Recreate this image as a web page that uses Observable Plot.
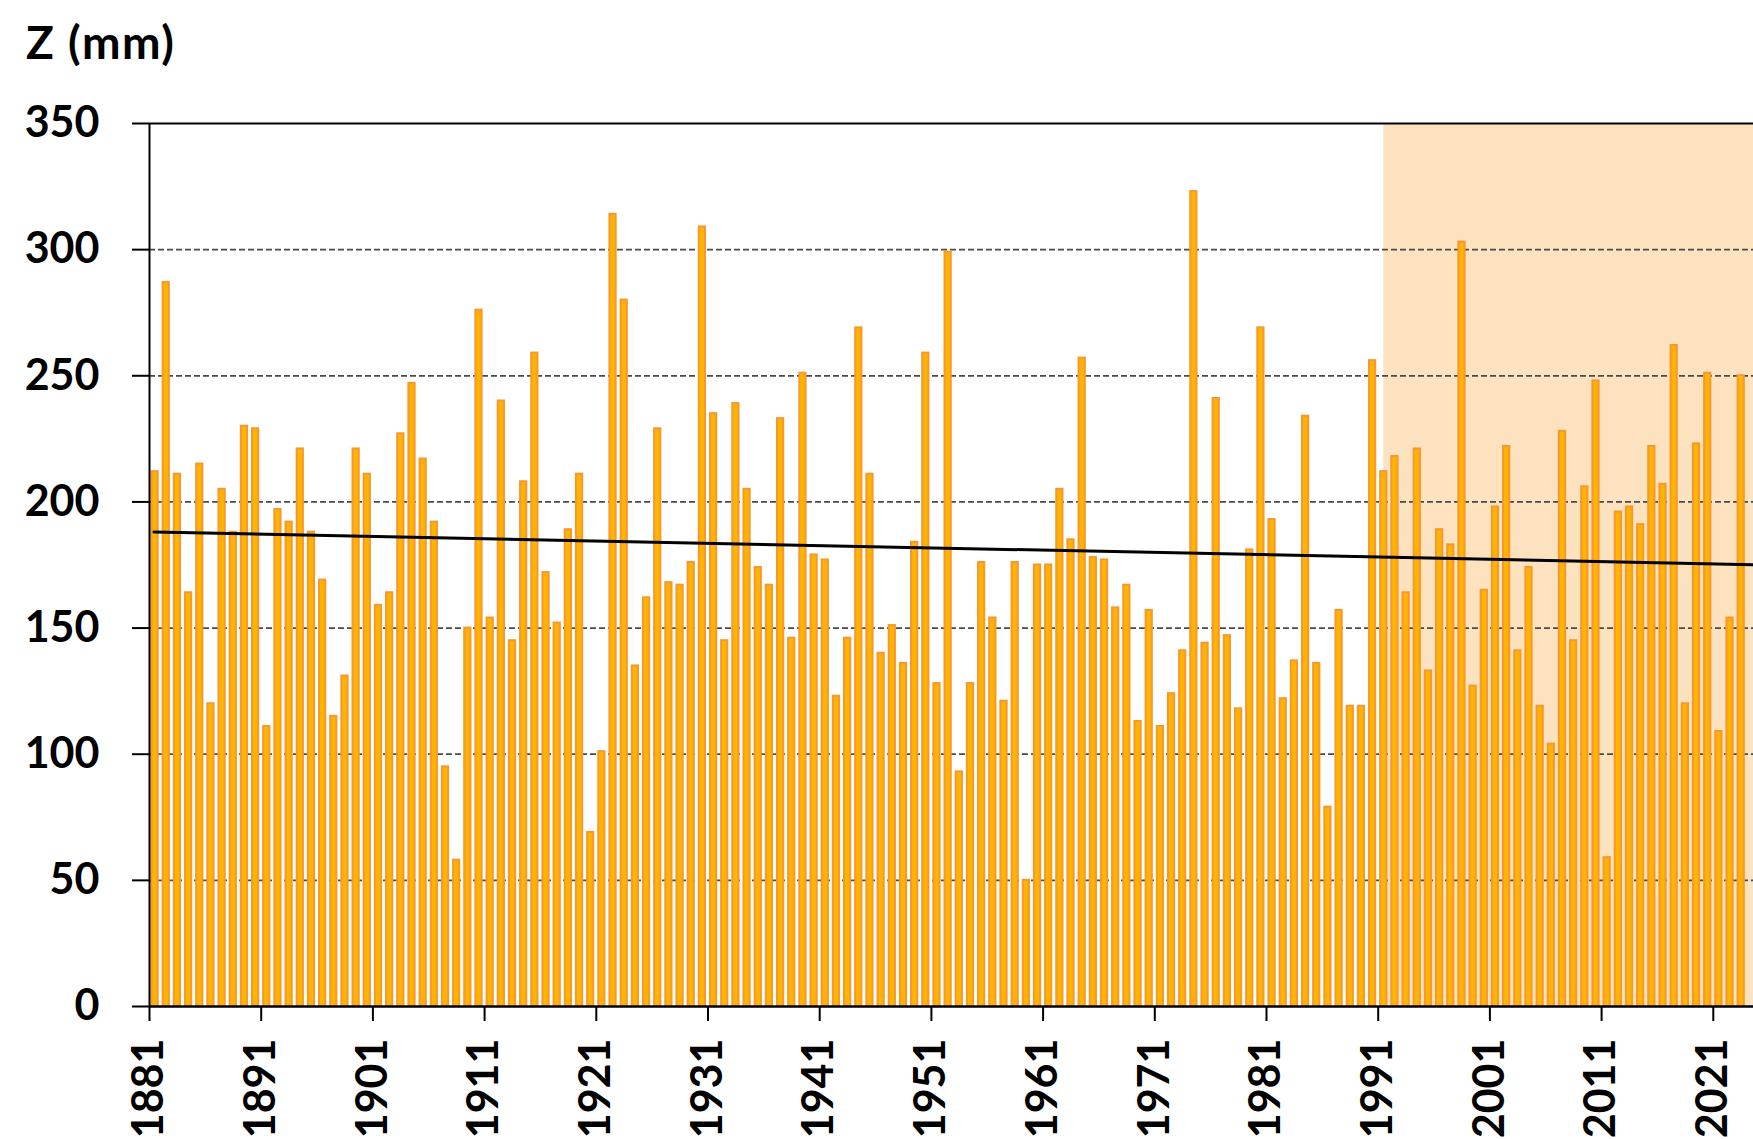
<!DOCTYPE html>
<html>
<head>
<meta charset="utf-8">
<script src="https://cdn.jsdelivr.net/npm/d3@7"></script>
<script src="https://cdn.jsdelivr.net/npm/@observablehq/plot@0.6"></script>
<style>
  html, body { margin: 0; padding: 0; background: #fff; }
  #wrap { position: relative; width: 1753px; height: 1139px; overflow: hidden; }
  #title { position: absolute; left: 26px; top: 19px; font-family: Lato, "Open Sans", sans-serif; font-weight: bold; font-size: 46px; line-height: 46px; letter-spacing: 1.5px; color: #000; z-index: 2; }
  #chart { position: absolute; left: 0; top: 0; }
</style>
</head>
<body>
<div id="wrap">
  <div id="title">Z (mm)</div>
  <div id="chart"></div>
</div>
<script>
const firstYear = 1881;
const values = [
  212, 287, 211, 164, 215, 120, 205, 188, 230, 229,   // 1881-1890
  111, 197, 192, 221, 188, 169, 115, 131, 221, 211,   // 1891-1900
  159, 164, 227, 247, 217, 192, 95, 58, 150, 276,     // 1901-1910
  154, 240, 145, 208, 259, 172, 152, 189, 211, 69,    // 1911-1920
  101, 314, 280, 135, 162, 229, 168, 167, 176, 309,   // 1921-1930
  235, 145, 239, 205, 174, 167, 233, 146, 251, 179,   // 1931-1940
  177, 123, 146, 269, 211, 140, 151, 136, 184, 259,   // 1941-1950
  128, 299, 93, 128, 176, 154, 121, 176, 50, 175,     // 1951-1960
  175, 205, 185, 257, 178, 177, 158, 167, 113, 157,   // 1961-1970
  111, 124, 141, 323, 144, 241, 147, 118, 181, 269,   // 1971-1980
  193, 122, 137, 234, 136, 79, 157, 119, 119, 256,    // 1981-1990
  212, 218, 164, 221, 133, 189, 183, 303, 127, 165,   // 1991-2000
  198, 222, 141, 174, 119, 104, 228, 145, 206, 248,   // 2001-2010
  59, 196, 198, 191, 222, 207, 262, 120, 223, 251,    // 2011-2020
  109, 154, 250                                       // 2021-2023
];
const years = values.map((_, i) => firstYear + i);
const xTicks = [1881, 1891, 1901, 1911, 1921, 1931, 1941, 1951, 1961, 1971, 1981, 1991, 2001, 2011, 2021];
const yTicks = [0, 50, 100, 150, 200, 250, 300, 350];
const gridValues = [50, 100, 150, 200, 250, 300];
const shadeStartYear = 1991;

const xMax = 2024.6;
const barHalf = 0.28;
const data = years.map((year, i) => ({year, value: values[i], xc: year + 0.5}));

// least-squares linear trend from the data
const mx = d3.mean(data, d => d.xc), my = d3.mean(data, d => d.value);
const slope = d3.sum(data, d => (d.xc - mx) * (d.value - my)) / d3.sum(data, d => (d.xc - mx) ** 2);
const trend = [firstYear + 0.4, xMax].map(x => ({x, y: my + slope * (x - mx)}));

const font = "Lato, 'Open Sans', sans-serif";

const chart = Plot.plot({
  width: 1753,
  height: 1139,
  marginLeft: 149,
  marginRight: 0,
  marginTop: 123,
  marginBottom: 133,
  style: {fontFamily: font, background: "transparent"},
  x: {domain: [firstYear, xMax]},
  y: {domain: [0, 350]},
  marks: [
    Plot.rect([{x1: shadeStartYear + 0.5, x2: xMax}], {x1: "x1", x2: "x2", y1: 0, y2: 350, fill: "#FDE2C0"}),
    Plot.ruleY(gridValues, {stroke: "#4a4a4a", strokeWidth: 1.8, strokeDasharray: "6,3"}),
    Plot.rect(data, {x1: d => d.xc - barHalf, x2: d => d.xc + barHalf, y1: 0, y2: "value", fill: "#FFB400", stroke: "#F7982F", strokeWidth: 2}),
    Plot.line(trend, {x: "x", y: "y", stroke: "#000", strokeWidth: 3}),
    Plot.ruleY([350], {stroke: "#000", strokeWidth: 2}),
    Plot.ruleY([0], {stroke: "#000", strokeWidth: 2.5}),
    Plot.ruleX([firstYear], {stroke: "#000", strokeWidth: 2}),
    Plot.axisY({ticks: yTicks, tickSize: 17, tickPadding: 33, tickFormat: d => String(d), fontSize: 43, fontWeight: "bold", fill: "#000", stroke: "#000", strokeWidth: 2, strokeOpacity: 1, label: null}),
    Plot.axisX({ticks: xTicks, tickSize: 15, tickPadding: 17, tickRotate: -90, tickFormat: d => String(d), fontSize: 43, fontWeight: "bold", fill: "#000", stroke: "#000", strokeWidth: 2, strokeOpacity: 1, label: null})
  ]
});
document.getElementById("chart").appendChild(chart);
</script>
</body>
</html>
